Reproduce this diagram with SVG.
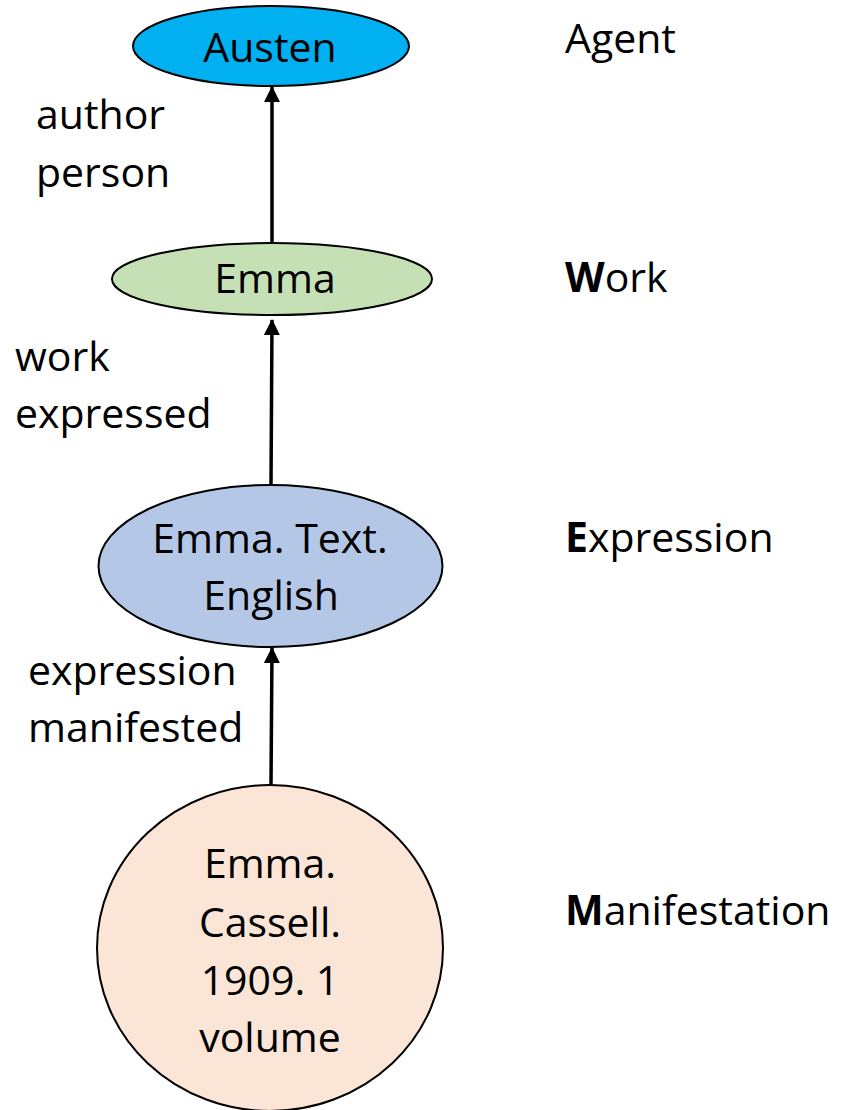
<svg xmlns="http://www.w3.org/2000/svg" width="848" height="1110" viewBox="0 0 848 1110">
<style>
text{font-family:"Open Sans","Noto Sans","Liberation Sans",sans-serif;font-size:41px;fill:#000}
.node{stroke:#000;stroke-width:2}
.c{text-anchor:middle}
.conn{stroke:#000;stroke-width:3.5;fill:none}
</style>
<defs>
<marker id="ah" markerUnits="userSpaceOnUse" markerWidth="16" markerHeight="16" viewBox="0 0 16 16" refX="15" refY="8" orient="auto">
<path d="M0,0 L16,8 L0,16 Z" fill="#000"/>
</marker>
</defs>
<rect width="848" height="1110" fill="#fff"/>
<g id="connectors">
<line class="conn" x1="272" y1="243" x2="272" y2="87" marker-end="url(#ah)"/>
<line class="conn" x1="271" y1="485" x2="272" y2="320" marker-end="url(#ah)"/>
<line class="conn" x1="271" y1="785" x2="272" y2="648" marker-end="url(#ah)"/>
</g>
<g id="agent">
<ellipse class="node" cx="271" cy="46" rx="138" ry="40" fill="#00B0F0"/>
<text class="c" x="270" y="62">Austen</text>
</g>
<g id="work">
<ellipse class="node" cx="272" cy="279" rx="160" ry="36" fill="#C5E0B4"/>
<text class="c" x="275" y="293">Emma</text>
</g>
<g id="expression">
<ellipse class="node" cx="270.5" cy="566" rx="172" ry="81" fill="#B4C7E7"/>
<text class="c" x="270" y="553">Emma. Text.</text>
<text class="c" x="271" y="610">English</text>
</g>
<g id="manifestation">
<ellipse class="node" cx="270" cy="948" rx="173" ry="163" fill="#FBE5D6"/>
<text class="c" x="270" y="878">Emma.</text>
<text class="c" x="270" y="937">Cassell.</text>
<text class="c" x="270" y="995">1909. 1</text>
<text class="c" x="270" y="1052">volume</text>
</g>
<g id="edge-labels">
<text x="36" y="129">author</text>
<text x="36" y="187">person</text>
<text x="15" y="371">work</text>
<text x="15" y="428">expressed</text>
<text x="28" y="685">expression</text>
<text x="28" y="742">manifested</text>
</g>
<g id="level-labels">
<text x="565" y="53">Agent</text>
<text x="565" y="292"><tspan font-weight="bold">W</tspan>ork</text>
<text x="565" y="552"><tspan font-weight="bold">E</tspan>xpression</text>
<text x="565" y="925"><tspan font-weight="bold">M</tspan>anifestation</text>
</g>
</svg>
